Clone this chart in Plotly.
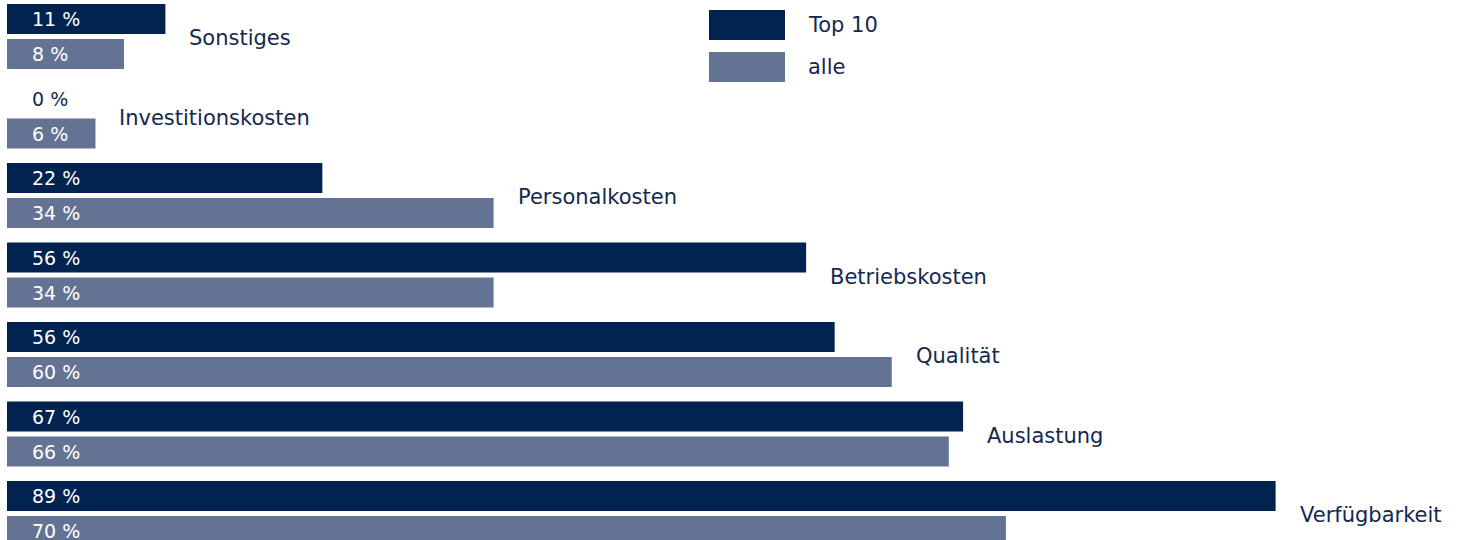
import plotly.graph_objects as go

categories = ["Sonstiges", "Investitionskosten", "Personalkosten", "Betriebskosten",
              "Qualität", "Auslastung", "Verfügbarkeit"]
top10_values = [11.1, 0, 22.1, 56.0, 58.0, 67.0, 88.9]
alle_values = [8.2, 6.2, 34.1, 34.1, 62.0, 66.0, 70.0]
top10_labels = ["11 %", "0 %", "22 %", "56 %", "56 %", "67 %", "89 %"]
alle_labels = ["8 %", "6 %", "34 %", "34 %", "60 %", "66 %", "70 %"]
series_names = ["Top 10", "alle"]

DARK = "#00234f"
SLATE = "#647393"
TEXT = "#13294f"
FONT = "DejaVu Sans"

W, H = 1459, 540
PX_PER_UNIT = 14.27
LEFT = 7
GROUP_PX = 79.5
BAR_PX = 30.0
GAP_PX = 5.0
LAST_GROUP_TOP_PX = 481.0

bar_w = BAR_PX / GROUP_PX
off_top = -(BAR_PX + GAP_PX / 2) / GROUP_PX
off_alle = (GAP_PX / 2) / GROUP_PX

fig = go.Figure()
fig.add_trace(go.Bar(y=categories, x=top10_values, orientation="h", name=series_names[0],
                     marker=dict(color=DARK, line=dict(width=0)),
                     width=bar_w, offset=off_top, hoverinfo="x+y"))
fig.add_trace(go.Bar(y=categories, x=alle_values, orientation="h", name=series_names[1],
                     marker=dict(color=SLATE, line=dict(width=0)),
                     width=bar_w, offset=off_alle, hoverinfo="x+y"))

annotations = []
bar_center_shift = BAR_PX / 2 + GAP_PX / 2
for cat, tv, av, tl, al in zip(categories, top10_values, alle_values, top10_labels, alle_labels):
    annotations.append(dict(x=0, y=cat, xref="x", yref="y", text=tl, showarrow=False,
                            xanchor="left", yanchor="middle", xshift=23, yshift=bar_center_shift,
                            font=dict(family=FONT, size=19, color="white" if tv > 0 else TEXT)))
    annotations.append(dict(x=0, y=cat, xref="x", yref="y", text=al, showarrow=False,
                            xanchor="left", yanchor="middle", xshift=23, yshift=-bar_center_shift,
                            font=dict(family=FONT, size=19, color="white" if av > 0 else TEXT)))
    annotations.append(dict(x=max(tv, av), y=cat, xref="x", yref="y", text=cat, showarrow=False,
                            xanchor="left", yanchor="middle", xshift=22, yshift=-1.5,
                            font=dict(family=FONT, size=21, color=TEXT)))

# legend drawn manually (large swatches)
plot_w = W - LEFT
def px_x(p):
    return (p - LEFT) / plot_w
def px_y(p):
    return 1 - p / H

shapes = []
for i, (name, col) in enumerate(zip(series_names, [DARK, SLATE])):
    y0 = 10 + i * 42
    shapes.append(dict(type="rect", xref="paper", yref="paper",
                       x0=px_x(709), x1=px_x(785), y0=px_y(y0 + 30), y1=px_y(y0),
                       fillcolor=col, line=dict(width=0)))
    annotations.append(dict(x=px_x(806), y=px_y(y0 + 15), xref="paper", yref="paper",
                            text=name, showarrow=False, xanchor="left", yanchor="middle",
                            font=dict(family=FONT, size=21, color=TEXT)))

n = len(categories)
last_center_px = LAST_GROUP_TOP_PX + BAR_PX + GAP_PX / 2
y_top = (n - 1) - last_center_px / GROUP_PX  # category value at pixel 0
y_bottom = y_top + H / GROUP_PX

fig.update_layout(
    width=W, height=H,
    margin=dict(l=LEFT, r=0, t=0, b=0),
    paper_bgcolor="white", plot_bgcolor="white",
    barmode="overlay",
    showlegend=False,
    xaxis=dict(range=[0, plot_w / PX_PER_UNIT], visible=False, fixedrange=True),
    yaxis=dict(range=[y_bottom, y_top], visible=False, type="category", fixedrange=True),
    annotations=annotations,
    shapes=shapes,
    font=dict(family=FONT, color=TEXT),
)

fig.write_html("out.html", config={"displayModeBar": False},
               post_script="document.body.style.margin='0';document.body.style.overflow='hidden';")
